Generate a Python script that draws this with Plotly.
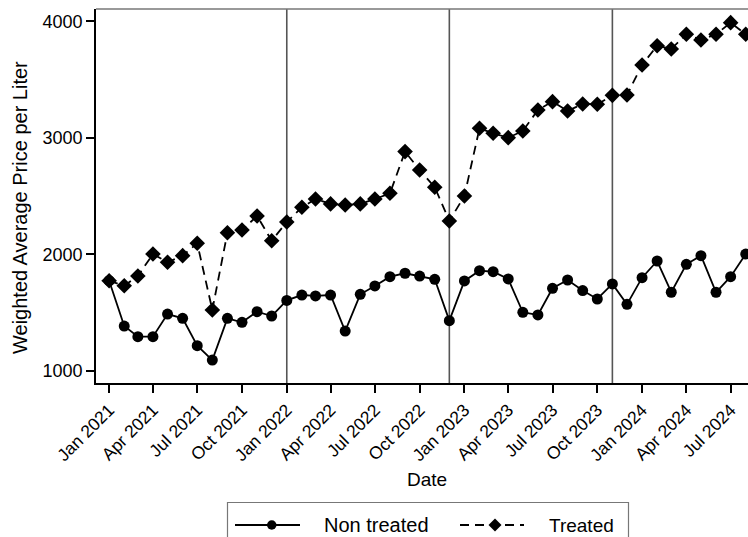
import plotly.graph_objects as go

# Monthly weighted average price per liter, Jan 2021 - Aug 2024
months = [f"{y}-{m:02d}-01" for y in (2021, 2022, 2023, 2024) for m in range(1, 13)][:44]

non_treated = [1775, 1386, 1295, 1295, 1489, 1452, 1217, 1094, 1452, 1418, 1509, 1472,
               1606, 1652, 1644, 1652, 1343, 1658, 1730, 1810, 1839, 1815, 1787, 1432,
               1773, 1861, 1852, 1790, 1504, 1481, 1710, 1781, 1690, 1618, 1747,
               1572, 1801, 1944, 1676, 1916, 1990, 1676, 1810, 2004]

treated = [1775, 1732, 1815, 2004, 1933, 1990, 2096, 1524, 2187, 2210, 2330, 2118,
           2279, 2405, 2476, 2434, 2425, 2434, 2476, 2525, 2883, 2725, 2577, 2288,
           2502, 3083, 3040, 3003, 3060, 3240, 3312, 3232, 3292, 3289, 3366,
           3369, 3627, 3792, 3764, 3890, 3841, 3890, 3990, 3890]

# Reference dates marked with vertical lines
event_dates = ["2022-01-01", "2022-12-01", "2023-11-01"]

tick_vals = [f"{y}-{m:02d}-01" for y in (2021, 2022, 2023, 2024) for m in (1, 4, 7, 10)][:15]
tick_text = [f"{mon} {y}" for y in (2021, 2022, 2023, 2024) for mon in ("Jan", "Apr", "Jul", "Oct")][:15]
y_ticks = [1000, 2000, 3000, 4000]

FONT = "Liberation Sans, Arial, sans-serif"
W, H = 748, 537
L, T, B = 96, 9, 154
PW, PH = W - L, H - T - B


def px(x):
    return (x - L) / PW


def py(y):
    return (H - B - y) / PH


fig = go.Figure()
fig.add_trace(go.Scatter(
    x=months, y=non_treated, name="Non treated", mode="lines+markers",
    line=dict(color="black", width=1.8),
    marker=dict(symbol="circle", size=11, color="black"),
))
fig.add_trace(go.Scatter(
    x=months, y=treated, name="Treated", mode="lines+markers",
    line=dict(color="black", width=1.8, dash="9px,6px"),
    marker=dict(symbol="diamond", size=12, color="black"),
))

shapes = []
for d in event_dates:
    shapes.append(dict(type="line", xref="x", yref="paper", x0=d, x1=d, y0=0, y1=1,
                       line=dict(color="#555555", width=1.6), layer="below"))
# top frame line
shapes.append(dict(type="line", xref="paper", yref="paper", x0=0, x1=1, y0=1, y1=1,
                   line=dict(color="#777777", width=1.5)))

# legend box and samples
ly = 525
shapes.append(dict(type="rect", xref="paper", yref="paper",
                   x0=px(227.5), x1=px(628.5), y0=py(545), y1=py(502.5),
                   line=dict(color="#777777", width=1.2)))
shapes.append(dict(type="line", xref="paper", yref="paper",
                   x0=px(235), x1=px(300), y0=py(ly), y1=py(ly),
                   line=dict(color="black", width=1.8)))
shapes.append(dict(type="circle", xref="paper", yref="paper",
                   x0=px(267), x1=px(276.5), y0=py(ly + 4.75), y1=py(ly - 4.75),
                   fillcolor="black", line=dict(color="black", width=0)))
shapes.append(dict(type="line", xref="paper", yref="paper",
                   x0=px(460), x1=px(524), y0=py(ly), y1=py(ly),
                   line=dict(color="black", width=1.8, dash="9px,6px")))
dx, dy = 6.5, 6.5
shapes.append(dict(type="path", xref="paper", yref="paper",
                   path=(f"M{px(495 - dx)},{py(ly)} L{px(495)},{py(ly - dy)} "
                         f"L{px(495 + dx)},{py(ly)} L{px(495)},{py(ly + dy)} Z"),
                   fillcolor="black", line=dict(color="black", width=0)))

annotations = [
    dict(text="Non treated", xref="paper", yref="paper", x=px(322), y=py(ly),
         xanchor="left", yanchor="middle", showarrow=False,
         font=dict(family=FONT, size=20, color="black")),
    dict(text="Treated", xref="paper", yref="paper", x=px(547), y=py(ly),
         xanchor="left", yanchor="middle", showarrow=False,
         font=dict(family=FONT, size=19, color="black")),
    dict(text="Date", xref="paper", yref="paper", x=px(427), y=py(479),
         xanchor="center", yanchor="middle", showarrow=False,
         font=dict(family=FONT, size=19, color="black")),
    dict(text="Weighted Average Price per Liter", xref="paper", yref="paper",
         x=px(20), y=py(208), textangle=-90, xanchor="center", yanchor="middle",
         showarrow=False, font=dict(family=FONT, size=20, color="black")),
]

fig.update_layout(
    width=W, height=H,
    margin=dict(l=L, r=0, t=T, b=B, pad=0),
    plot_bgcolor="white", paper_bgcolor="white",
    showlegend=False,
    font=dict(family=FONT, size=18, color="black"),
    shapes=shapes, annotations=annotations,
    xaxis=dict(
        range=["2020-12-05", "2024-08-05 16:00"],
        tickvals=tick_vals, ticktext=tick_text, tickangle=-45,
        ticks="outside", ticklen=8, tickwidth=1.5, tickcolor="black",
        showline=True, linecolor="black", linewidth=1.8,
        showgrid=False, zeroline=False,
        tickfont=dict(family=FONT, size=17.5, color="black"),
    ),
    yaxis=dict(
        range=[897, 4107],
        tickvals=y_ticks, ticks="outside", ticklen=8, tickwidth=1.5, tickcolor="black",
        showline=True, linecolor="black", linewidth=1.8,
        showgrid=False, zeroline=False,
        tickfont=dict(family=FONT, size=18, color="black"),
    ),
)

fig.write_html("out.html")
